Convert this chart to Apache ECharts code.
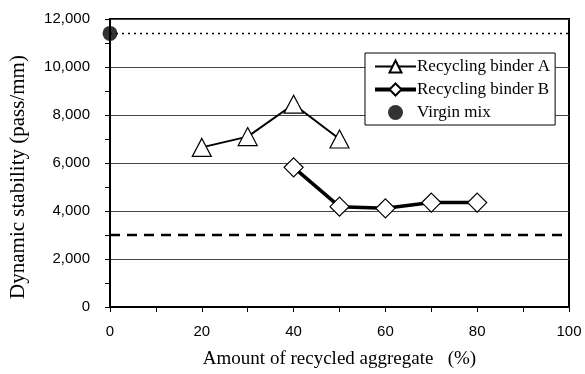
<!DOCTYPE html>
<html><head><meta charset="utf-8">
<script src="https://cdn.jsdelivr.net/npm/echarts@6/dist/echarts.min.js"></script>
<style>html,body{margin:0;padding:0;background:#fff}#c{width:585px;height:374px}</style>
</head><body><div id="c"></div>
<script>
const xA = [20, 30, 40, 50];
const yA = [6650, 7100, 8450, 7000];
const xB = [40, 50, 60, 70, 80];
const yB = [5820, 4180, 4110, 4350, 4350];
const virginX = [0];
const virginY = [11400];
const virginLineY = 11400;
const limitLineY = 3000;
const lineXRange = [0, 100];
const names = ['Recycling binder A', 'Recycling binder B', 'Virgin mix'];
const xTitle = 'Amount of recycled aggregate   (%)';
const yTitle = 'Dynamic stability (pass/mm)';

const serif = '"Liberation Serif", "Times New Roman", serif';
const sans = '"Liberation Sans", Arial, sans-serif';
const chart = echarts.init(document.getElementById('c'));
chart.setOption({
  animation: false,
  backgroundColor: '#fff',
  grid: {left: 110, right: 16, top: 19, bottom: 67, show: true, borderColor: '#000', borderWidth: 2},
  graphic: [{
    type: 'text', x: 18, y: 177, rotation: Math.PI / 2, silent: true,
    style: {text: yTitle, font: '21px ' + serif, fill: '#000', textAlign: 'center', textVerticalAlign: 'middle'}
  }],
  xAxis: {
    type: 'value', min: 0, max: 100, interval: 20,
    axisLine: {show: true, lineStyle: {color: '#000', width: 2}},
    axisTick: {show: true, length: 5, lineStyle: {color: '#000', width: 1}},
    minorTick: {show: true, splitNumber: 2, length: 5, lineStyle: {color: '#000', width: 1}},
    splitLine: {show: false},
    axisLabel: {color: '#000', fontFamily: sans, fontSize: 15, margin: 17},
    name: xTitle, nameLocation: 'middle', nameGap: 43,
    nameTextStyle: {color: '#000', fontFamily: serif, fontSize: 19}
  },
  yAxis: {
    type: 'value', min: 0, max: 12000, interval: 2000,
    axisLine: {show: true, lineStyle: {color: '#000', width: 2}},
    axisTick: {show: true, length: 5, lineStyle: {color: '#000', width: 1}},
    minorTick: {show: true, splitNumber: 2, length: 5, lineStyle: {color: '#000', width: 1}},
    splitLine: {show: true, lineStyle: {color: '#444', width: 1}},
    axisLabel: {color: '#000', fontFamily: sans, fontSize: 15, margin: 20,
      formatter: v => v.toLocaleString('en-US')}
  },
  legend: {
    left: 365, top: 53, orient: 'vertical',
    data: [
      {name: names[0], lineStyle: {width: 2}},
      {name: names[1], lineStyle: {width: 4}},
      {name: names[2], itemStyle: {color: '#000'}}
    ],
    backgroundColor: '#fff', borderColor: '#000', borderWidth: 1,
    padding: [5, 5, 4, 8], itemGap: 6, itemWidth: 41, itemHeight: 15,
    textStyle: {color: '#000', fontFamily: serif, fontSize: 17, padding: [0, 0, 0, -4]}
  },
  series: [
    {
      name: names[0], type: 'line', data: xA.map((x, i) => [x, yA[i]]),
      symbol: 'triangle', symbolSize: [19, 18],
      lineStyle: {color: '#000', width: 2}, itemStyle: {color: '#fff', borderColor: '#000', borderWidth: 1.2},
      z: 5
    },
    {
      name: names[1], type: 'line', data: xB.map((x, i) => [x, yB[i]]),
      symbol: 'diamond', symbolSize: [19, 19],
      lineStyle: {color: '#000', width: 3.5}, itemStyle: {color: '#fff', borderColor: '#000', borderWidth: 1.2},
      z: 5
    },
    {
      name: names[2], type: 'scatter', data: virginX.map((x, i) => [x, virginY[i]]),
      symbol: 'circle', symbolSize: 15, itemStyle: {color: '#000'}, z: 6
    },
    {
      type: 'line', data: lineXRange.map(x => [x, virginLineY]), symbol: 'none', silent: true,
      lineStyle: {color: '#000', width: 1.5, type: [2, 4]}, z: 3
    },
    {
      type: 'line', data: lineXRange.map(x => [x, limitLineY]), symbol: 'none', silent: true,
      lineStyle: {color: '#000', width: 2.5, type: [10, 7]}, z: 3
    }
  ]
});
</script></body></html>
